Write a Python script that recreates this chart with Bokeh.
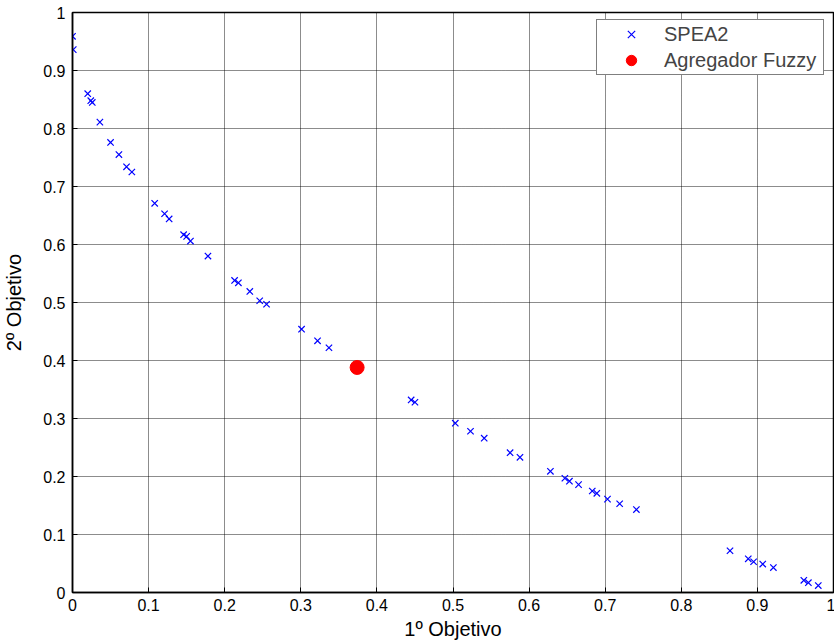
from bokeh.plotting import figure
from bokeh.models import FixedTicker, Legend, LegendItem, ColumnDataSource
from bokeh.embed import file_html
from bokeh.resources import INLINE

# SPEA2 Pareto front (1º Objetivo, 2º Objetivo)
spea2_x = [0.000, 0.001, 0.020, 0.024, 0.026, 0.036, 0.050, 0.061, 0.071, 0.078,
           0.108, 0.121, 0.127, 0.146, 0.150, 0.155, 0.178, 0.213, 0.218, 0.233,
           0.246, 0.255, 0.301, 0.322, 0.337, 0.445, 0.450, 0.503, 0.523, 0.541,
           0.575, 0.588, 0.628, 0.647, 0.653, 0.665, 0.683, 0.689, 0.703, 0.719,
           0.741, 0.864, 0.888, 0.895, 0.907, 0.921, 0.961, 0.967, 0.980]
spea2_y = [0.959, 0.936, 0.860, 0.848, 0.845, 0.811, 0.776, 0.755, 0.734, 0.725,
           0.671, 0.653, 0.644, 0.617, 0.614, 0.606, 0.580, 0.538, 0.534, 0.519,
           0.503, 0.497, 0.454, 0.434, 0.422, 0.332, 0.328, 0.292, 0.278, 0.266,
           0.241, 0.233, 0.209, 0.197, 0.192, 0.186, 0.175, 0.171, 0.161, 0.153,
           0.143, 0.072, 0.058, 0.053, 0.049, 0.043, 0.021, 0.017, 0.012]

# Agregador Fuzzy solution
fuzzy_x = [0.374]
fuzzy_y = [0.388]

x_ticks = [0, 0.1, 0.2, 0.3, 0.4, 0.5, 0.6, 0.7, 0.8, 0.9, 1]
x_tick_labels = ["0", "0.1", "0.2", "0.3", "0.4", "0.5", "0.6", "0.7", "0.8", "0.9", "1"]
y_ticks = [0, 0.1, 0.2, 0.3, 0.4, 0.5, 0.6, 0.7, 0.8, 0.9, 1]
y_tick_labels = ["0", "0.1", "0.2", "0.3", "0.4", "0.5", "0.6", "0.7", "0.8", "0.9", "1"]

FONT = "Liberation Sans"

p = figure(frame_width=761, frame_height=580,
           x_range=(0, 1), y_range=(0, 1),
           output_backend="svg", toolbar_location=None,
           min_border_left=71, min_border_right=2, min_border_top=12, min_border_bottom=51,
           background_fill_color="white", border_fill_color="white")

p.outline_line_color = "black"
p.outline_line_width = 1.5

for ax, ticks, labels in ((p.xaxis[0], x_ticks, x_tick_labels), (p.yaxis[0], y_ticks, y_tick_labels)):
    ax.ticker = FixedTicker(ticks=ticks)
    ax.major_label_overrides = dict(zip(ticks, labels))
    ax.major_tick_in = 5
    ax.major_tick_out = 0
    ax.minor_tick_line_color = None
    ax.axis_line_color = "black"
    ax.axis_line_width = 1.5
    ax.major_tick_line_color = "black"
    ax.major_label_text_font = FONT
    ax.major_label_text_font_size = "16px"
    ax.major_label_text_color = "black"
    ax.axis_label_text_font = FONT
    ax.axis_label_text_font_size = "20px"
    ax.axis_label_text_font_style = "normal"
    ax.axis_label_text_color = "black"

p.xaxis[0].axis_label = "1º Objetivo"
p.yaxis[0].axis_label = "2º Objetivo"
p.xaxis[0].major_label_standoff = 6
p.yaxis[0].major_label_standoff = 7
p.xaxis[0].axis_label_standoff = 4
p.yaxis[0].axis_label_standoff = 15

p.xgrid.ticker = FixedTicker(ticks=x_ticks)
p.ygrid.ticker = FixedTicker(ticks=y_ticks)
for g in (p.xgrid[0], p.ygrid[0]):
    g.grid_line_color = "black"
    g.grid_line_alpha = 0.9
    g.grid_line_dash = "1 1"
    g.grid_line_width = 1

src1 = ColumnDataSource(dict(x=spea2_x, y=spea2_y))
src2 = ColumnDataSource(dict(x=fuzzy_x, y=fuzzy_y))
r1 = p.scatter("x", "y", source=src1, marker="x", size=9, line_color="#0000ff", line_width=1.2)
r2 = p.scatter("x", "y", source=src2, marker="circle", size=14, fill_color="#ff0000", line_color="#ff0000")

legend = Legend(items=[LegendItem(label="SPEA2", renderers=[r1]),
                       LegendItem(label="Agregador Fuzzy", renderers=[r2])],
                location=(524, 517), margin=0, padding=1, spacing=0,
                glyph_width=66, glyph_height=26, label_standoff=0, label_width=158,
                label_text_font=FONT, label_text_font_size="20px",
                border_line_color="black", border_line_width=1,
                background_fill_color="white", background_fill_alpha=1)
p.add_layout(legend)

open("out.html", "w").write(file_html(p, INLINE))
